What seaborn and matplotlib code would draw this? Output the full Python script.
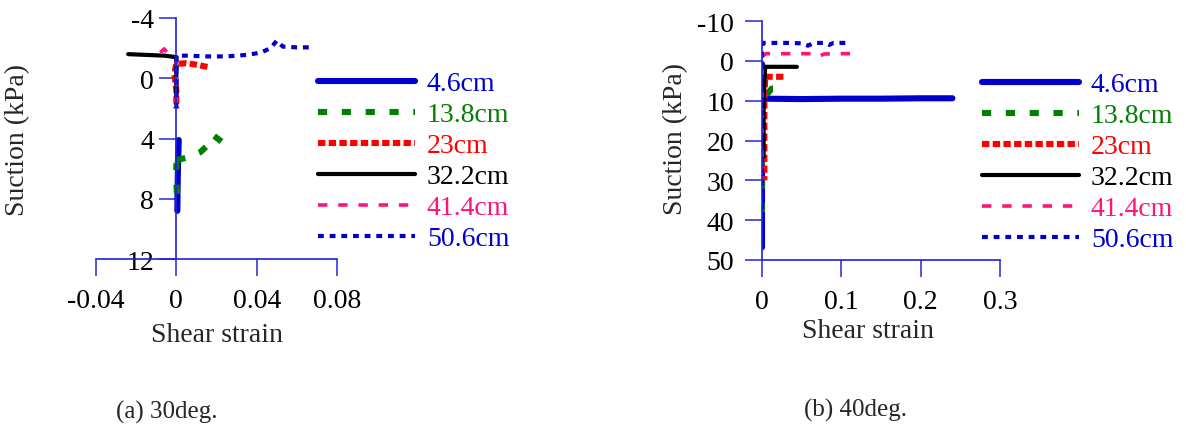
import matplotlib
matplotlib.use("Agg")
import matplotlib.pyplot as plt
import seaborn as sns
import pandas as pd

# Depth labels of the suction sensors
depths = ["4.6cm", "13.8cm", "23cm", "32.2cm", "41.4cm", "50.6cm"]

# (a) slope angle 30 deg: shear strain vs suction (kPa)
a46_x = [0.0012, 0.001, 0.0008, 0.0006, 0.0005]
a46_y = [4.1, 5.0, 6.0, 7.5, 8.8]
a138_x = [0.0225, 0.0185, 0.016, 0.012, 0.006, 0.001, -0.004, 0.0, 0.0, 0.0005]
a138_y = [4.2, 3.8, 4.4, 4.9, 5.25, 5.4, 5.5, 5.6, 7.0, 8.0]
a23_x = [0.0155, 0.01, 0.005, 0.0, -0.001, 0.0, 0.0]
a23_y = [-0.75, -0.9, -1.0, -0.95, -0.3, 0.8, 2.0]
a322_x = [-0.024, -0.015, -0.006, 0.0, 0.0, 0.0]
a322_y = [-1.6, -1.55, -1.5, -1.4, 0.0, 1.2]
a414_x = [-0.008, -0.006, -0.004, 0.0, 0.0, 0.0]
a414_y = [-1.7, -1.95, -1.6, -1.4, 0.5, 1.8]
a506_x = [0.0, 0.0, 0.0, 0.005, 0.015, 0.025, 0.035, 0.042, 0.047, 0.05, 0.053, 0.06, 0.068]
a506_y = [2.0, 0.0, -1.5, -1.5, -1.45, -1.45, -1.55, -1.7, -2.0, -2.5, -2.1, -2.05, -2.05]

# (b) slope angle 40 deg
b46_x = [0.0, 0.0, 0.0, 0.0, 0.0, 0.002, 0.05, 0.1, 0.15, 0.2, 0.24]
b46_y = [46.8, 35, 20, 10, 0.8, 9.5, 9.6, 9.5, 9.5, 9.4, 9.4]
b138_x = [0.0, 0.0, 0.0, 0.0, 0.012, 0.024]
b138_y = [38, 30, 20, 10, 7.0, 7.0]
b23_x = [0.027, 0.015, 0.004, 0.003, 0.003, 0.003]
b23_y = [4.0, 4.0, 4.0, 10, 20, 30]
b322_x = [0.044, 0.02, 0.004, 0.002, 0.002]
b322_y = [1.5, 1.5, 1.5, 10, 24]
b414_x = [0.111, 0.09, 0.078, 0.074, 0.07, 0.05, 0.02, 0.005, 0.0, 0.0, 0.0]
b414_y = [-1.8, -1.8, -1.7, -1.3, -1.8, -1.8, -1.8, -1.8, -1.0, 10, 28]
b506_x = [0.105, 0.09, 0.085, 0.08, 0.065, 0.058, 0.05, 0.03, 0.01, 0.001, 0.0, 0.0, 0.0]
b506_y = [-4.5, -4.5, -4.0, -4.5, -4.5, -3.8, -4.4, -4.5, -4.5, -4.5, -3.0, 10, 40]

a_ticks_x = [-0.04, 0, 0.04, 0.08]
a_ticklabels_x = ["-0.04", "0", "0.04", "0.08"]
a_ticks_y = [-4, 0, 4, 8, 12]
b_ticks_x = [0, 0.1, 0.2, 0.3]
b_ticklabels_x = ["0", "0.1", "0.2", "0.3"]
b_ticks_y = [-10, 0, 10, 20, 30, 40, 50]

# Line styles per depth
styles = [
    dict(color="#0000CC", lw=4.4, ls="-"),
    dict(color="#008000", lw=4.4, ls=(0, (1.5, 2.4))),
    dict(color="#FF0000", lw=4.4, ls=(0, (1.2, 0.55))),
    dict(color="#000000", lw=3.0, ls="-"),
    dict(color="#FF1478", lw=2.6, ls=(0, (2.6, 3.0))),
    dict(color="#0000CC", lw=3.0, ls=(0, (1.4, 1.4))),
]

sns.set_theme(style="white")
plt.rcParams["font.family"] = ["Liberation Serif", "DejaVu Serif"]

W, H = 1186, 427
fig = plt.figure(figsize=(W / 100, H / 100), dpi=100)

SPINE = "#2020DD"
TICK = "#5555DD"
FS = 20


def px_box(x0, x1, ytop, ybot):
    return [x0 / W, 1 - ybot / H, (x1 - x0) / W, (ybot - ytop) / H]


def draw(ax, xs, ys):
    handles = []
    for name, x, y, st in zip(depths, xs, ys, styles):
        df = pd.DataFrame({"strain": x, "suction": y})
        sns.lineplot(data=df, x="strain", y="suction", ax=ax, sort=False,
                     estimator=None, color=st["color"], linewidth=st["lw"],
                     linestyle=st["ls"], label=name, legend=False)
        handles.append(ax.get_lines()[-1])
    return handles


def style_axes(ax):
    for s in ["top", "right"]:
        ax.spines[s].set_visible(False)
    for s in ["left", "bottom"]:
        ax.spines[s].set_color(SPINE)
        ax.spines[s].set_linewidth(1.2)
    ax.tick_params(axis="both", which="major", direction="out", length=12,
                   width=1.4, color=TICK, labelsize=FS, labelcolor="black",
                   bottom=True, left=True, top=False, right=False)
    ax.tick_params(axis="x", pad=9)
    ax.set_xlabel("")
    ax.set_ylabel("")
    ax.grid(False)
    ax.set_facecolor("none")


# Panel (a)
ax1 = fig.add_axes(px_box(96, 337, 19, 260))
h1 = draw(ax1, [a46_x, a138_x, a23_x, a322_x, a414_x, a506_x],
          [a46_y, a138_y, a23_y, a322_y, a414_y, a506_y])
ax1.set_xlim(-0.04, 0.08)
ax1.set_ylim(12, -4)
ax1.set_xticks(a_ticks_x, a_ticklabels_x)
ax1.set_yticks(a_ticks_y, [str(v) for v in a_ticks_y])
style_axes(ax1)
ax1.spines["left"].set_position(("data", 0))
ax1.tick_params(axis="y", pad=4)

# Panel (b)
ax2 = fig.add_axes(px_box(762, 1000, 22, 261))
h2 = draw(ax2, [b46_x, b138_x, b23_x, b322_x, b414_x, b506_x],
          [b46_y, b138_y, b23_y, b322_y, b414_y, b506_y])
ax2.set_xlim(0, 0.3)
ax2.set_ylim(50, -10)
ax2.set_xticks(b_ticks_x, b_ticklabels_x)
ax2.set_yticks(b_ticks_y, [str(v) for v in b_ticks_y])
style_axes(ax2)
ax2.tick_params(axis="y", pad=8)

# Legends, text coloured like the lines
for handles, xl, yt in [(h1, 318, 72), (h2, 982, 73)]:
    fig.legend(handles, depths, loc="upper left",
               bbox_to_anchor=(xl / W, 1 - yt / H),
               frameon=False, fontsize=FS, handlelength=3.5,
               handletextpad=0.42, labelspacing=0.2, borderpad=0,
               borderaxespad=0, labelcolor="linecolor")

# Axis labels and captions
fig.text(18 / W, 1 - 140 / H, "Suction (kPa)", rotation=90, ha="center",
         va="center", fontsize=FS)
fig.text(676 / W, 1 - 139 / H, "Suction (kPa)", rotation=90, ha="center",
         va="center", fontsize=FS)
fig.text(217 / W, 1 - 336 / H, "Shear strain", ha="center", va="center",
         fontsize=FS)
fig.text(868 / W, 1 - 332 / H, "Shear strain", ha="center", va="center",
         fontsize=FS)
fig.text(167 / W, 1 - 412 / H, "(a) 30deg.", ha="center", va="center",
         fontsize=18)
fig.text(855 / W, 1 - 410 / H, "(b) 40deg.", ha="center", va="center",
         fontsize=18)

fig.savefig("out.png", dpi=100, facecolor="white")
